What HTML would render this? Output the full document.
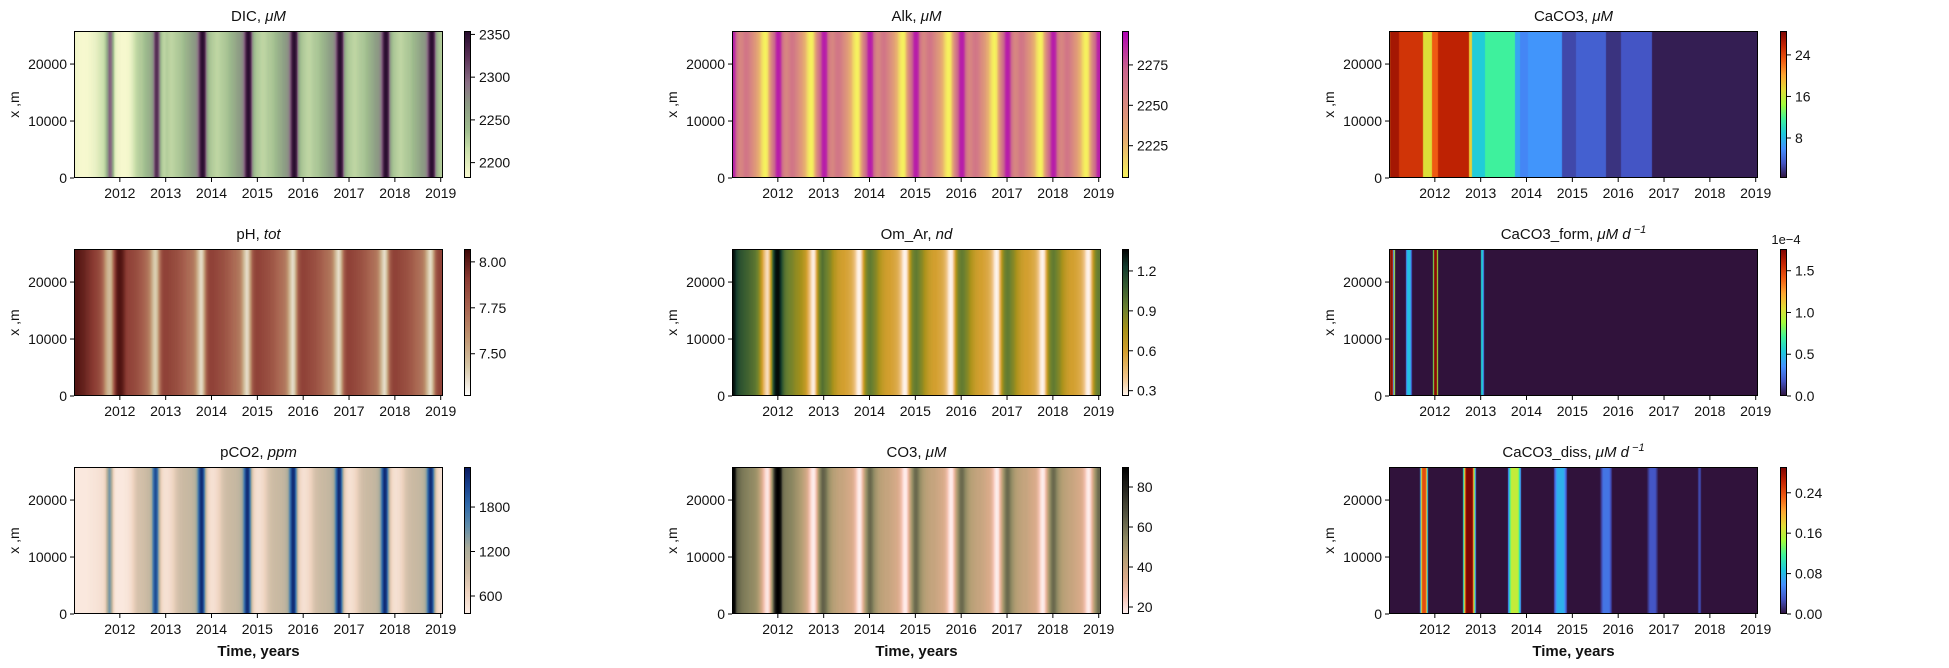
<!DOCTYPE html>
<html><head><meta charset="utf-8">
<style>
html,body{margin:0;padding:0;background:#fff;}
#root{position:relative;width:1949px;height:668px;overflow:hidden;font-family:"Liberation Sans","DejaVu Sans",sans-serif;}
canvas{position:absolute;}
svg{position:absolute;left:0;top:0;}
</style></head>
<body>
<div id="root">
<svg id="ov" width="1949" height="668"></svg>
</div>
<script>
// ---- data (semi-monthly samples, 24 per year) ----
const dic2011=[2190,2188,2186,2185,2185,2185,2185,2186,2188,2190,2192,2195,2200,2205,2210,2215,2230,2260,2300,2295,2250,2200,2190,2188];
const dic2012=[2186,2185,2185,2186,2188,2192,2200,2210,2220,2225,2228,2230,2235,2240,2245,2250,2258,2275,2320,2330,2300,2240,2225,2222];
const dicTyp=[2228,2225,2222,2222,2225,2228,2230,2232,2235,2240,2245,2250,2255,2262,2266,2270,2280,2310,2345,2352,2335,2270,2240,2232];
const alkTyp=[2290,2285,2265,2255,2252,2255,2260,2262,2260,2255,2250,2245,2240,2232,2225,2215,2208,2205,2210,2230,2250,2262,2275,2288];
const ph2011=[8.02,8.02,8.01,8.0,7.99,7.98,7.96,7.95,7.93,7.92,7.9,7.88,7.86,7.83,7.78,7.7,7.58,7.5,7.46,7.5,7.7,7.9,8.0,8.03];
const ph2012=[8.03,8.0,7.95,7.9,7.88,7.87,7.86,7.85,7.84,7.82,7.8,7.78,7.76,7.73,7.7,7.65,7.55,7.45,7.4,7.45,7.62,7.78,7.86,7.88];
const phTyp=[7.88,7.87,7.86,7.85,7.84,7.83,7.82,7.8,7.79,7.77,7.75,7.73,7.72,7.7,7.68,7.62,7.52,7.42,7.36,7.42,7.6,7.78,7.85,7.88];
const om2011=[1.34,1.3,1.2,1.15,1.12,1.1,1.08,1.06,1.05,1.02,1.0,0.98,0.95,0.9,0.8,0.65,0.5,0.38,0.32,0.4,0.7,1.1,1.3,1.34];
const om2012=[1.34,1.25,1.1,1.0,0.95,0.92,0.9,0.88,0.85,0.82,0.8,0.78,0.75,0.7,0.65,0.55,0.45,0.33,0.27,0.33,0.6,0.85,0.95,1.0];
const omTyp=[0.95,0.92,0.88,0.84,0.78,0.72,0.68,0.64,0.62,0.6,0.6,0.58,0.57,0.55,0.53,0.48,0.4,0.3,0.26,0.3,0.5,0.75,0.88,0.93];
const pco2011=[420,420,420,420,420,420,420,430,440,450,460,470,480,500,520,560,700,1200,1500,1300,700,450,420,420];
const pco2012=[420,420,430,450,480,520,600,700,800,850,870,880,900,920,950,1000,1200,1700,2050,1900,1200,700,550,500];
const pcoTyp=[500,520,560,620,700,800,860,900,920,940,950,960,980,1000,1050,1150,1400,1900,2250,2150,1500,800,600,520];
const co32011=[90,88,65,62,60,58,57,56,55,54,53,52,50,47,42,36,28,21,18,22,40,60,80,90];
const co32012=[90,85,62,58,57,56,55,54,52,50,48,46,44,41,38,34,27,20,17,20,32,48,58,64];
const co3Typ=[62,58,52,48,45,43,42,41,40,40,39,38,37,36,35,33,28,21,17,19,30,42,52,60];
// CaCO3 piecewise segments
const caStarts=[2011.0,2011.03,2011.22,2011.74,2011.93,2012.07,2012.74,2012.81,2013.1,2013.74,2013.85,2014.04,2014.78,2015.07,2015.74,2016.07,2016.74];
const caVals=[18,27,25,17,23,26,18,9,11.5,7,5.5,6.2,2.6,3.7,1.7,3.2,0.8];
// CaCO3_form bands (1e-4)
const formStart=[2011.0,2011.1,2011.36,2011.96,2013.0];
const formEnd=[2011.1,2011.13,2011.5,2012.07,2013.07];
const formPeak=[1.72,0.9,0.5,1.72,0.55];
// CaCO3_diss bands
const dissStart=[2011.68,2012.61,2013.59,2014.59,2015.61,2016.63,2017.74];
const dissEnd=[2011.85,2012.89,2013.89,2014.89,2015.87,2016.87,2017.81];
const dissPeak=[0.24,0.29,0.16,0.075,0.045,0.03,0.025];
const yearTicks=[2012,2013,2014,2015,2016,2017,2018,2019];
const yTicks=[0,10000,20000];

// ---- helpers ----
function build(a,b,typ){let s=a.concat(b);for(let i=0;i<7;i++)s=s.concat(typ);return s;}
function cyc(series){return t=>{let f=(t-2011)*24-0.5;if(f<0)f=0;const i=Math.floor(f),r=f-i;const a=series[Math.min(i,series.length-1)],b=series[Math.min(i+1,series.length-1)];return a+(b-a)*r;};}
function stepF(st,vals){return t=>{let v=vals[0];for(let i=0;i<st.length;i++)if(t>=st[i])v=vals[i];return v;};}
function bandF(s,e,p){return t=>{let v=0;for(let i=0;i<s.length;i++){if(t>=s[i]&&t<=e[i]){const w=e[i]-s[i],d=Math.min(t-s[i],e[i]-t);v=Math.max(v,p[i]*Math.min(1,d/(0.3*w)+0.15));}}return v;};}
function hex(h){return [parseInt(h.substr(1,2),16),parseInt(h.substr(3,2),16),parseInt(h.substr(5,2),16)];}
function stops(list){const st=list.map(s=>[s[0],hex(s[1])]);return x=>{x=Math.max(0,Math.min(1,x));for(let i=1;i<st.length;i++){if(x<=st[i][0]){const a=st[i-1],b=st[i],r=(x-a[0])/(b[0]-a[0]);return [0,1,2].map(k=>Math.round(a[1][k]+(b[1][k]-a[1][k])*r));}}return st[st.length-1][1];};}
const turbo=stops([[0,'#30123b'],[0.1,'#4454c4'],[0.2,'#4490fe'],[0.3,'#1fc9dd'],[0.4,'#3ff39a'],[0.5,'#a4fc3c'],[0.6,'#e2dc38'],[0.7,'#fea632'],[0.8,'#f05b12'],[0.9,'#c42503'],[1,'#7a0403']]);

const cmDIC=stops([[0,'#fbfbd2'],[0.2,'#c8deaa'],[0.33,'#9fbc8e'],[0.5,'#8c9a84'],[0.65,'#8a6f85'],[0.82,'#5a3258'],[1,'#24092a']]);
const cmAlk=stops([[0,'#f7f45e'],[0.25,'#e8b070'],[0.5,'#d98a80'],[0.75,'#c9628e'],[1,'#b000b5']]);
const cmPH=stops([[0,'#ffffff'],[0.2,'#d6c6a6'],[0.4,'#bf9470'],[0.6,'#a86450'],[0.8,'#8a3a32'],[1,'#3c0606']]);
const cmOm=stops([[0,'#fff6f0'],[0.12,'#f2c890'],[0.3,'#d4a030'],[0.45,'#a8921a'],[0.6,'#6a8030'],[0.75,'#355a30'],[0.88,'#123a2c'],[1,'#000000']]);
const cmPCO=stops([[0,'#fdeee6'],[0.15,'#eed3bf'],[0.3,'#c9b9a2'],[0.45,'#a9ab9a'],[0.6,'#5f8caa'],[0.75,'#2e68a8'],[0.88,'#173e8a'],[1,'#0a1a5c']]);
const cmCO3=stops([[0,'#fff2f2'],[0.12,'#f6c4b4'],[0.25,'#d9ab8a'],[0.38,'#b39e74'],[0.52,'#8a8660'],[0.66,'#5a5a44'],[0.82,'#2c2c24'],[1,'#000000']]);

const L=[74,732,1389],T=[31,249,467],W=369,H=147,CBX=[464,1122,1780],CBW=7;
const XMIN=2011.0,XMAX=2019.05,YMAX=25800;
const panels=[
 {name:'dic',title:'DIC, ',it:'μM',c:0,r:0,f:cyc(build(dic2011,dic2012,dicTyp)),cm:cmDIC,vmin:2182,vmax:2354,ticks:[2200,2250,2300,2350],fmt:v=>v},
 {name:'alk',title:'Alk, ',it:'μM',c:1,r:0,f:cyc(build(alkTyp,alkTyp,alkTyp)),cm:cmAlk,vmin:2205,vmax:2296,ticks:[2225,2250,2275],fmt:v=>v},
 {name:'caco3',title:'CaCO3, ',it:'μM',c:2,r:0,f:stepF(caStarts,caVals),cm:turbo,vmin:0.3,vmax:28.6,ticks:[8,16,24],fmt:v=>v},
 {name:'ph',title:'pH, ',it:'tot',c:0,r:1,f:cyc(build(ph2011,ph2012,phTyp)),cm:cmPH,vmin:7.27,vmax:8.07,ticks:[7.5,7.75,8.0],fmt:v=>v.toFixed(2)},
 {name:'om-ar',title:'Om_Ar, ',it:'nd',c:1,r:1,f:cyc(build(om2011,om2012,omTyp)),cm:cmOm,vmin:0.26,vmax:1.365,ticks:[0.3,0.6,0.9,1.2],fmt:v=>v.toFixed(1)},
 {name:'caco3-form',title:'CaCO3_form, ',it:'μM d',sup:true,c:2,r:1,f:bandF(formStart,formEnd,formPeak),cm:turbo,vmin:0,vmax:1.76,ticks:[0,0.5,1.0,1.5],fmt:v=>v.toFixed(1)},
 {name:'pco2',title:'pCO2, ',it:'ppm',c:0,r:2,f:cyc(build(pco2011,pco2012,pcoTyp)),cm:cmPCO,vmin:357,vmax:2340,ticks:[600,1200,1800],fmt:v=>v},
 {name:'co3',title:'CO3, ',it:'μM',c:1,r:2,f:cyc(build(co32011,co32012,co3Typ)),cm:cmCO3,vmin:16.5,vmax:90,ticks:[20,40,60,80],fmt:v=>v},
 {name:'caco3-diss',title:'CaCO3_diss, ',it:'μM d',sup:true,c:2,r:2,f:bandF(dissStart,dissEnd,dissPeak),cm:turbo,vmin:0,vmax:0.291,ticks:[0,0.08,0.16,0.24],fmt:v=>v.toFixed(2)}
];
const root=document.getElementById('root');
const ov=document.getElementById('ov');
const NS='http://www.w3.org/2000/svg';
function sv(tag,attrs,txt){const e=document.createElementNS(NS,tag);for(const k in attrs)e.setAttribute(k,attrs[k]);if(txt!==undefined)e.textContent=txt;ov.appendChild(e);return e;}
function xScale(p,t){return L[p.c]+(t-XMIN)/(XMAX-XMIN)*W;}
function yScale(p,v){return T[p.r]+H-(v/YMAX)*H;}

panels.forEach(p=>{
 const x0=L[p.c],y0=T[p.r];
 const cv=document.createElement('canvas');
 
 
 cv.width=W;cv.height=H;cv.style.left=x0+'px';cv.style.top=y0+'px';
 root.insertBefore(cv,ov);
 const ctx=cv.getContext('2d');
 for(let i=0;i<W;i++){const t=XMIN+(i+0.5)/W*(XMAX-XMIN);const v=p.f(t);const c=p.cm((v-p.vmin)/(p.vmax-p.vmin));ctx.fillStyle='rgb('+c.join(',')+')';ctx.fillRect(i,0,1,H);}
 const cb=document.createElement('canvas');
 
 
 cb.width=CBW;cb.height=H;cb.style.left=CBX[p.c]+'px';cb.style.top=y0+'px';
 root.insertBefore(cb,ov);
 const cc=cb.getContext('2d');
 for(let j=0;j<H;j++){const c=p.cm(1-(j+0.5)/H);cc.fillStyle='rgb('+c.join(',')+')';cc.fillRect(0,j,CBW,1);}
 const fr=sv('rect',{x:x0+0.5,y:y0+0.5,width:W-1,height:H-1,fill:'none',stroke:'#000','stroke-width':1});
 
 
 const cf=sv('rect',{x:CBX[p.c]+0.5,y:y0+0.5,width:CBW-1,height:H-1,fill:'none',stroke:'#000','stroke-width':1});
 
 
 const tt=sv('text',{x:x0+W/2,y:y0-10,'text-anchor':'middle','font-size':15,fill:'#111'});
 
 
 const s1=document.createElementNS(NS,'tspan');s1.textContent=p.title;tt.appendChild(s1);
 const s2=document.createElementNS(NS,'tspan');s2.setAttribute('font-style','italic');s2.textContent=p.it;tt.appendChild(s2);
 if(p.sup){const s3=document.createElementNS(NS,'tspan');s3.setAttribute('font-style','italic');s3.setAttribute('font-size','11');s3.setAttribute('dy','-6');s3.textContent=' −1';tt.appendChild(s3);}
 yearTicks.forEach(yr=>{const x=xScale(p,yr);
  sv('line',{x1:x,x2:x,y1:y0+H,y2:y0+H+4,stroke:'#000'});
  const l=sv('text',{x:x,y:y0+H+20,'text-anchor':'middle','font-size':14,fill:'#111'},String(yr));
  
  
 });
 yTicks.forEach(v=>{const y=yScale(p,v);
  sv('line',{x1:x0-4,x2:x0,y1:y,y2:y,stroke:'#000'});
  const l=sv('text',{x:x0-7,y:y+5,'text-anchor':'end','font-size':14,fill:'#111'},String(v));
  
  
 });
 const yl=sv('text',{x:0,y:0,'text-anchor':'middle','font-size':14,fill:'#111',transform:'translate('+(x0-55)+','+(y0+H/2)+') rotate(-90)'},'x ,m');
 
 
 p.ticks.forEach(v=>{const y=y0+H-(v-p.vmin)/(p.vmax-p.vmin)*H;
  sv('line',{x1:CBX[p.c]+CBW,x2:CBX[p.c]+CBW+4,y1:y,y2:y,stroke:'#000'});
  const l=sv('text',{x:CBX[p.c]+CBW+8,y:y+5,'font-size':14,fill:'#111'},String(p.fmt(v)));
  
  
 });
 if(p.name==='caco3-form'){const e=sv('text',{x:CBX[p.c]+6,y:y0-5,'text-anchor':'middle','font-size':13,fill:'#111'},'1e−4');
  
  }
 if(p.r===2){const e=sv('text',{x:x0+W/2,y:y0+H+42,'text-anchor':'middle','font-size':15,'font-weight':'bold',fill:'#111'},'Time, years');
  
  }
});
</script>
</body></html>
